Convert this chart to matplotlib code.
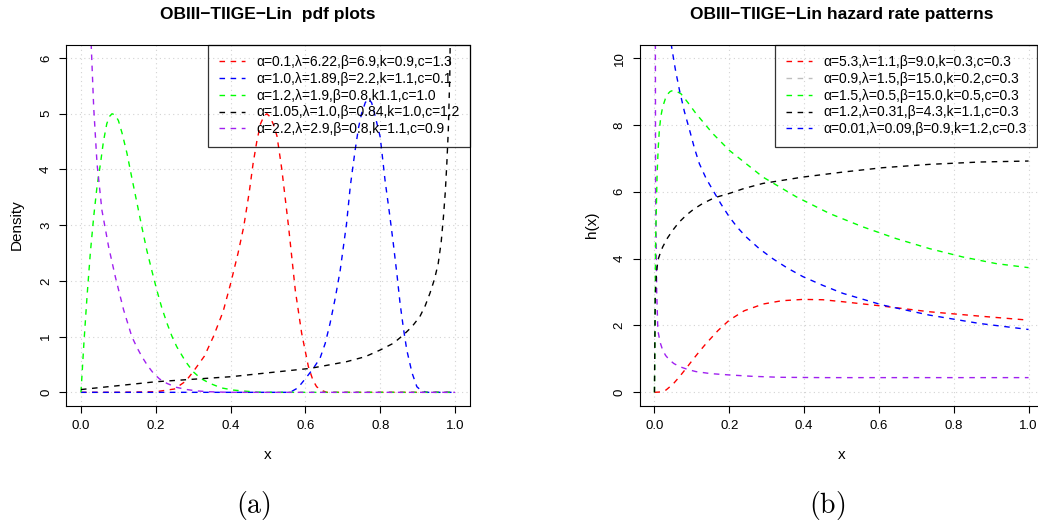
import matplotlib
matplotlib.use("Agg")
import matplotlib.pyplot as plt
from matplotlib.lines import Line2D

plt.rcParams['font.family'] = ['Liberation Sans', 'DejaVu Sans']
plt.rcParams['mathtext.fontset'] = 'cm'

# ---------------- data: panel (a) pdf curves ----------------
pdf_red_x = [0.0, 0.1, 0.2, 0.25, 0.28, 0.30, 0.33, 0.354, 0.38, 0.40, 0.42, 0.435, 0.45, 0.46, 0.47, 0.48, 0.49, 0.497, 0.505, 0.515, 0.524, 0.537, 0.555, 0.573, 0.59, 0.608, 0.62, 0.63, 0.645, 0.657, 0.7, 0.8, 0.9, 1.0]
pdf_red_y = [0.0, 0.0, 0.01, 0.06, 0.2, 0.37, 0.65, 1.0, 1.45, 1.95, 2.5, 2.97, 3.6, 4.1, 4.5, 4.82, 4.97, 5.0, 4.95, 4.8, 4.6, 4.0, 2.97, 1.83, 1.06, 0.46, 0.22, 0.1, 0.03, 0.0, 0.0, 0.0, 0.0, 0.0]

pdf_blue_x = [0.0, 0.2, 0.4, 0.5, 0.559, 0.58, 0.604, 0.62, 0.639, 0.653, 0.666, 0.68, 0.693, 0.71, 0.72, 0.733, 0.742, 0.75, 0.76, 0.768, 0.777, 0.785, 0.8, 0.813, 0.825, 0.835, 0.845, 0.853, 0.862, 0.871, 0.885, 0.898, 0.91, 0.924, 1.0]
pdf_blue_y = [0.0, 0.0, 0.0, 0.0, 0.0, 0.08, 0.28, 0.42, 0.61, 0.88, 1.24, 1.7, 2.19, 3.03, 3.7, 4.35, 4.75, 5.0, 5.2, 5.27, 5.2, 5.0, 4.58, 3.8, 3.2, 2.67, 2.1, 1.6, 1.15, 0.76, 0.35, 0.1, 0.03, 0.0, 0.0]

pdf_green_x = [0.0, 0.008, 0.016, 0.025, 0.034, 0.043, 0.052, 0.06, 0.069, 0.076, 0.083, 0.091, 0.1, 0.11, 0.123, 0.136, 0.15, 0.163, 0.176, 0.19, 0.203, 0.216, 0.23, 0.243, 0.256, 0.28, 0.30, 0.32, 0.345, 0.375, 0.408, 0.44, 0.48, 0.6, 0.8, 1.0]
pdf_green_y = [0.0, 0.9, 1.7, 2.5, 3.15, 3.7, 4.1, 4.5, 4.82, 4.95, 5.0, 4.98, 4.88, 4.65, 4.29, 3.85, 3.39, 2.96, 2.55, 2.17, 1.83, 1.52, 1.24, 1.01, 0.82, 0.55, 0.37, 0.25, 0.16, 0.08, 0.04, 0.02, 0.0, 0.0, 0.0, 0.0]

pdf_black_x = [0.0, 0.2, 0.4, 0.613, 0.71, 0.76, 0.8, 0.835, 0.862, 0.885, 0.906, 0.92, 0.933, 0.945, 0.955, 0.963, 0.969, 0.974, 0.978, 0.982, 0.986, 0.99, 1.0]
pdf_black_y = [0.05, 0.19, 0.28, 0.43, 0.55, 0.64, 0.76, 0.88, 1.03, 1.18, 1.36, 1.55, 1.78, 2.03, 2.31, 2.7, 3.15, 3.6, 4.1, 4.7, 5.7, 8.0, 15.0]

pdf_purple_x = [0.01, 0.02, 0.027, 0.034, 0.043, 0.056, 0.074, 0.092, 0.114, 0.136, 0.15, 0.163, 0.178, 0.194, 0.21, 0.23, 0.255, 0.283, 0.31, 0.345, 0.4, 0.6, 0.8, 1.0]
pdf_purple_y = [15.0, 7.6, 6.3, 5.12, 4.1, 3.27, 2.61, 2.07, 1.48, 1.0, 0.8, 0.64, 0.48, 0.34, 0.24, 0.16, 0.09, 0.05, 0.025, 0.01, 0.0, 0.0, 0.0, 0.0]

pdf_labels = ["\u03b1=0.1,\u03bb=6.22,\u03b2=6.9,k=0.9,c=1.3",
              "\u03b1=1.0,\u03bb=1.89,\u03b2=2.2,k=1.1,c=0.1",
              "\u03b1=1.2,\u03bb=1.9,\u03b2=0.8,k1.1,c=1.0",
              "\u03b1=1.05,\u03bb=1.0,\u03b2=0.84,k=1.0,c=1.2",
              "\u03b1=2.2,\u03bb=2.9,\u03b2=0.8,k=1.1,c=0.9"]
pdf_colors = ["#FF0000", "#0000FF", "#00FF00", "#000000", "#A020F0"]

# ---------------- data: panel (b) hazard curves ----------------
hz_red_x = [0.0, 0.015, 0.031, 0.05, 0.067, 0.085, 0.102, 0.12, 0.138, 0.17, 0.2, 0.24, 0.29, 0.34, 0.397, 0.45, 0.504, 0.61, 0.735, 0.869, 1.0]
hz_red_y = [0.0, 0.01, 0.07, 0.25, 0.47, 0.72, 0.97, 1.22, 1.46, 1.85, 2.16, 2.44, 2.64, 2.74, 2.78, 2.77, 2.71, 2.58, 2.41, 2.28, 2.16]

hz_purple_x = [0.0, 0.003, 0.006, 0.009, 0.015, 0.022, 0.03, 0.04, 0.052, 0.067, 0.09, 0.111, 0.15, 0.2, 0.26, 0.334, 0.45, 0.557, 1.0]
hz_purple_y = [30.0, 6.0, 3.0, 1.86, 1.5, 1.26, 1.1, 0.97, 0.86, 0.77, 0.68, 0.62, 0.56, 0.52, 0.48, 0.45, 0.44, 0.44, 0.44]

hz_green_x = [0.0, 0.003, 0.007, 0.01, 0.013, 0.017, 0.022, 0.029, 0.036, 0.042, 0.049, 0.06, 0.071, 0.09, 0.111, 0.156, 0.2, 0.29, 0.379, 0.468, 0.557, 0.646, 0.735, 0.824, 0.914, 1.0]
hz_green_y = [0.0, 4.5, 6.5, 7.3, 7.84, 8.25, 8.54, 8.78, 8.93, 9.0, 9.03, 9.0, 8.93, 8.66, 8.34, 7.74, 7.24, 6.44, 5.85, 5.35, 4.95, 4.6, 4.3, 4.05, 3.85, 3.73]

hz_black_x = [0.0, 0.002, 0.005, 0.009, 0.015, 0.022, 0.035, 0.049, 0.065, 0.085, 0.105, 0.129, 0.16, 0.2, 0.24, 0.29, 0.397, 0.504, 0.61, 0.735, 0.869, 1.0]
hz_black_y = [0.0, 2.8, 3.5, 3.95, 4.15, 4.35, 4.62, 4.85, 5.08, 5.3, 5.48, 5.65, 5.82, 5.95, 6.1, 6.25, 6.44, 6.59, 6.72, 6.82, 6.89, 6.92]

hz_blue_x = [0.03, 0.045, 0.056, 0.067, 0.08, 0.094, 0.107, 0.12, 0.138, 0.156, 0.178, 0.2, 0.222, 0.245, 0.28, 0.316, 0.355, 0.397, 0.45, 0.504, 0.61, 0.735, 0.869, 1.0]
hz_blue_y = [13.0, 10.39, 9.65, 9.03, 8.4, 7.84, 7.3, 6.84, 6.4, 6.05, 5.63, 5.25, 4.93, 4.65, 4.3, 4.0, 3.72, 3.46, 3.2, 2.96, 2.61, 2.31, 2.06, 1.88]

hz_labels = ["\u03b1=5.3,\u03bb=1.1,\u03b2=9.0,k=0.3,c=0.3",
             "\u03b1=0.9,\u03bb=1.5,\u03b2=15.0,k=0.2,c=0.3",
             "\u03b1=1.5,\u03bb=0.5,\u03b2=15.0,k=0.5,c=0.3",
             "\u03b1=1.2,\u03bb=0.31,\u03b2=4.3,k=1.1,c=0.3",
             "\u03b1=0.01,\u03bb=0.09,\u03b2=0.9,k=1.2,c=0.3"]
hz_legend_colors = ["#FF0000", "#BEBEBE", "#00FF00", "#000000", "#0000FF"]

xticks = [0.0, 0.2, 0.4, 0.6, 0.8, 1.0]
xtick_labels = ["0.0", "0.2", "0.4", "0.6", "0.8", "1.0"]
pdf_yticks = [0, 1, 2, 3, 4, 5, 6]
hz_yticks = [0, 2, 4, 6, 8, 10]

W, H = 1038, 529
fig = plt.figure(figsize=(W / 100, H / 100), dpi=100)

ax_bottom = 1 - 405.7 / H
ax_h = 361.0 / H
ax_w = 404.0 / W
ax1 = fig.add_axes([66.0 / W, ax_bottom, ax_w, ax_h])
ax2 = fig.add_axes([639.5 / W, ax_bottom, ax_w, ax_h])

DASH = (0, (4, 4))
LW = 1.0


def style(ax, yticks, ylim):
    ax.set_xlim(-0.04, 1.04)
    ax.set_ylim(-0.04 * ylim, 1.04 * ylim)
    ax.set_xticks(xticks)
    ax.set_xticklabels(xtick_labels)
    ax.set_yticks(yticks)
    ax.set_yticklabels([str(t) for t in yticks], rotation=90, va='center')
    ax.grid(True, color='#D3D3D3', linestyle=(0, (1, 3)), linewidth=0.8)
    ax.set_axisbelow(True)
    ax.tick_params(direction='out', length=5, width=0.8, labelsize=9.5, pad=5, color='black')
    for s in ax.spines.values():
        s.set_color('black')
        s.set_linewidth(0.8)


style(ax1, pdf_yticks, 6)
style(ax2, hz_yticks, 10)

pdf_series = [(pdf_red_x, pdf_red_y), (pdf_blue_x, pdf_blue_y), (pdf_green_x, pdf_green_y),
              (pdf_black_x, pdf_black_y), (pdf_purple_x, pdf_purple_y)]
for (xs, ys), c in zip(pdf_series, pdf_colors):
    ax1.plot(xs, ys, color=c, linestyle=DASH, linewidth=LW)

hz_series = [(hz_red_x, hz_red_y, "#FF0000"), (hz_purple_x, hz_purple_y, "#A020F0"),
             (hz_green_x, hz_green_y, "#00FF00"), (hz_black_x, hz_black_y, "#000000"),
             (hz_blue_x, hz_blue_y, "#0000FF")]
for xs, ys, c in hz_series:
    ax2.plot(xs, ys, color=c, linestyle=DASH, linewidth=LW)


def make_legend(ax, labels, colors, anchor_x):
    handles = [Line2D([0], [0], color=c, linestyle=DASH, linewidth=LW) for c in colors]
    leg = ax.legend(handles, labels, loc='upper right', bbox_to_anchor=(anchor_x, 1.0),
                    borderaxespad=0, fontsize=10, frameon=True, fancybox=False,
                    edgecolor='black', facecolor='none', handlelength=1.9,
                    handletextpad=0.8, labelspacing=0.2, borderpad=0.75)
    leg.get_frame().set_linewidth(0.9)
    return leg


make_legend(ax1, pdf_labels, pdf_colors, 1.0)
make_legend(ax2, hz_labels, hz_legend_colors, (1037 - 639.5) / 404.0)

# titles
fig.text((66 + 470) / 2 / W, 1 - 15 / H, "OBIII\u2212TIIGE\u2212Lin  pdf plots",
         ha='center', va='center', fontsize=12.5, fontweight='bold')
fig.text((639.5 + 1043.5) / 2 / W, 1 - 15 / H, "OBIII\u2212TIIGE\u2212Lin hazard rate patterns",
         ha='center', va='center', fontsize=12.5, fontweight='bold')

# axis labels
fig.text(268 / W, 1 - 455 / H, "x", ha='center', va='center', fontsize=11)
fig.text(842 / W, 1 - 455 / H, "x", ha='center', va='center', fontsize=11)
fig.text(17 / W, 1 - 225 / H, "Density", ha='center', va='center', fontsize=11, rotation=90)
fig.text(592 / W, 1 - 225 / H, "h(x)", ha='center', va='center', fontsize=11, rotation=90)

# panel captions
fig.text(253 / W, 1 - 505 / H, r"$\mathrm{(a)}$", ha='center', va='center', fontsize=20)
fig.text(827 / W, 1 - 505 / H, r"$\mathrm{(b)}$", ha='center', va='center', fontsize=20)

fig.savefig("out.png", dpi=100)
